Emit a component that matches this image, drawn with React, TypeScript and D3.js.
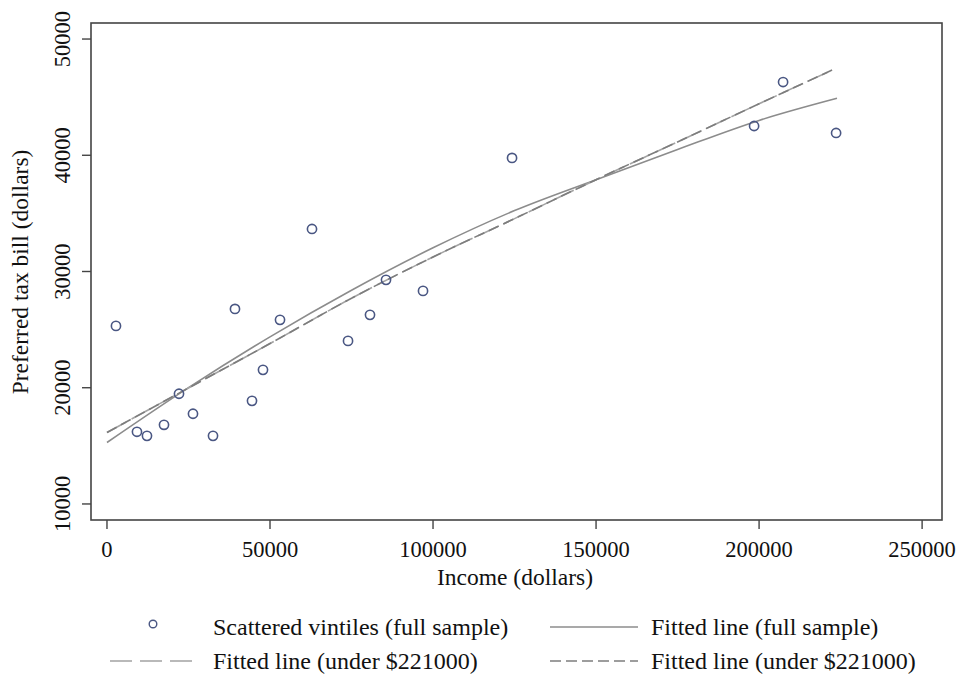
import React from "react";
import * as d3 from "d3";

// vintile scatter
const incomes = [2760, 9200, 12270, 17490, 22090, 26380, 32520, 39260, 44480, 47850, 53070, 62880, 73930, 80670, 85580, 96930, 124230, 198470, 207360, 223620];
const taxBills = [25320, 16210, 15860, 16810, 19480, 17760, 15860, 26780, 18870, 21540, 25840, 33660, 24030, 26270, 29280, 28330, 39770, 42520, 46300, 41920];

// fitted line, full sample
const fullFitX = [0, 25000, 50000, 75000, 100000, 125000, 150000, 175000, 200000, 223900];
const fullFitY = [15290, 20010, 24380, 28390, 32040, 35240, 37900, 40500, 43000, 44900];

// fitted line, under $221000
const subFitX = [0, 25000, 50000, 75000, 100000, 125000, 150000, 175000, 200000, 222400];
const subFitY = [16150, 19980, 23800, 27700, 31250, 34550, 37900, 41150, 44430, 47330];

const xTicks = [0, 50000, 100000, 150000, 200000, 250000];
const yTicks = [10000, 20000, 30000, 40000, 50000];

const legendLabels = [
  "Scattered vintiles (full sample)",
  "Fitted line (full sample)",
  "Fitted line (under $221000)",
  "Fitted line (under $221000)",
];

const W = 967;
const H = 675;
const left = 91, right = 942, top = 23, bottom = 520;
const font = "'Liberation Serif', 'Times New Roman', serif";
const markerColor = "#4a5783";
const lineColor = "#8c8c8c";

export default function App() {
  const x = d3.scaleLinear().domain([-4900, 256100]).range([left, right]);
  const y = d3.scaleLinear().domain([8620, 51380]).range([bottom, top]);

  const line = d3
    .line<[number, number]>()
    .x((d) => x(d[0]))
    .y((d) => y(d[1]))
    .curve(d3.curveMonotoneX);

  const fullPath = line(fullFitX.map((v, i) => [v, fullFitY[i]]) as [number, number][]) || "";
  const subPath = line(subFitX.map((v, i) => [v, subFitY[i]]) as [number, number][]) || "";

  return (
    <svg
      width={W}
      height={H}
      style={{ position: "absolute", left: 0, top: 0, background: "#fff" }}
      fontFamily={font}
    >
      <rect x={0} y={0} width={W} height={H} fill="#fff" />

      {/* fitted lines */}
      <path d={fullPath} fill="none" stroke={lineColor} strokeWidth={1.6} />
      <path d={subPath} fill="none" stroke="#a3a3a3" strokeWidth={1.6} strokeDasharray="22,6" />
      <path d={subPath} fill="none" stroke="#7d7d7d" strokeWidth={1.6} strokeDasharray="11,5" />

      {/* scatter */}
      {incomes.map((v, i) => (
        <circle
          key={i}
          cx={x(v)}
          cy={y(taxBills[i])}
          r={4.6}
          fill="none"
          stroke={markerColor}
          strokeWidth={1.6}
        />
      ))}

      {/* frame */}
      <rect x={left} y={top} width={right - left} height={bottom - top} fill="none" stroke="#444" strokeWidth={1.6} />

      {/* x axis */}
      {xTicks.map((t) => (
        <g key={t}>
          <line x1={x(t)} x2={x(t)} y1={bottom} y2={bottom + 9} stroke="#444" strokeWidth={1.4} />
          <text x={x(t)} y={557} textAnchor="middle" fontSize={22.5} fill="#111">
            {t}
          </text>
        </g>
      ))}
      <text x={515} y={585} textAnchor="middle" fontSize={23.5} fill="#111">
        Income (dollars)
      </text>

      {/* y axis */}
      {yTicks.map((t) => (
        <g key={t}>
          <line x1={left - 9} x2={left} y1={y(t)} y2={y(t)} stroke="#444" strokeWidth={1.4} />
          <text
            transform={`translate(70,${y(t)}) rotate(-90)`}
            textAnchor="middle"
            fontSize={22.5}
            fill="#111"
          >
            {t}
          </text>
        </g>
      ))}
      <text
        transform={`translate(28,${272}) rotate(-90)`}
        textAnchor="middle"
        fontSize={23.5}
        fill="#111"
      >
        Preferred tax bill (dollars)
      </text>

      {/* legend */}
      <circle cx={153} cy={624} r={3.8} fill="none" stroke={markerColor} strokeWidth={1.4} />
      <text x={213} y={635} fontSize={24} fill="#111">{legendLabels[0]}</text>
      <line x1={550} x2={638} y1={627} y2={627} stroke={lineColor} strokeWidth={1.6} />
      <text x={651} y={635} fontSize={24} fill="#111">{legendLabels[1]}</text>
      <line x1={110} x2={198} y1={661} y2={661} stroke="#a3a3a3" strokeWidth={1.6} strokeDasharray="22,8" />
      <text x={213} y={669} fontSize={24} fill="#111">{legendLabels[2]}</text>
      <line x1={550} x2={638} y1={661} y2={661} stroke="#7d7d7d" strokeWidth={1.6} strokeDasharray="11,5" />
      <text x={651} y={669} fontSize={24} fill="#111">{legendLabels[3]}</text>
    </svg>
  );
}
